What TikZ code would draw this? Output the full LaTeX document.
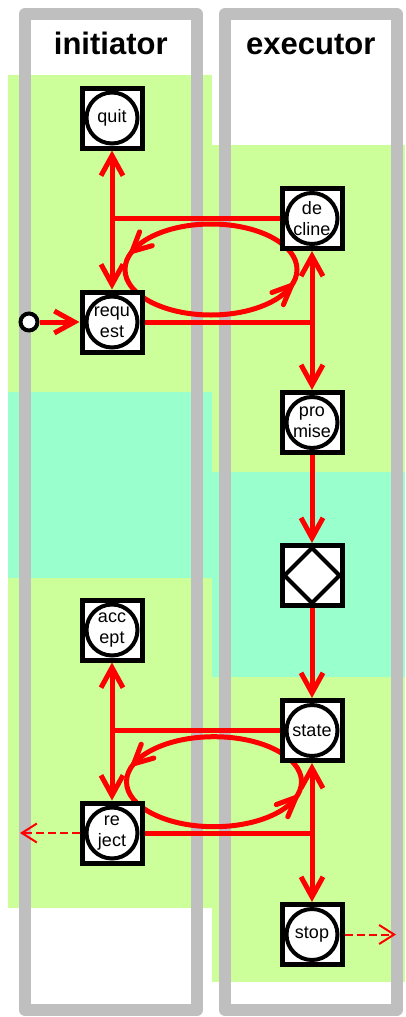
\documentclass[tikz,border=0pt]{standalone}
\usepackage{fontspec}
\setmainfont{Liberation Sans}
\usetikzlibrary{arrows.meta,calc}
\definecolor{lanegray}{RGB}{191,191,191}
\definecolor{lgreen}{RGB}{204,255,153}
\definecolor{lcyan}{RGB}{153,255,204}
\begin{document}
\begin{tikzpicture}[x=1pt,y=1pt,
  actbox/.style={rectangle, draw=black, line width=5pt, fill=white, minimum size=60pt, inner sep=0pt, align=center,
     font=\fontsize{18}{21}\selectfont,
     path picture={\draw[black, line width=4pt, fill=white] (path picture bounding box.center) circle[radius=25.5pt];}},
  factbox/.style={rectangle, draw=black, line width=5pt, fill=white, minimum size=60pt, inner sep=0pt,
     path picture={\draw[black, line width=4pt, fill=white] ($(path picture bounding box.center)+(0,27.5)$) -- ++(27.5,-27.5) -- ++(-27.5,-27.5) -- ++(-27.5,27.5) -- cycle;}},
  flow/.style={draw=red, line width=5pt, -{Straight Barb[length=20pt,width=22pt]}},
  loopline/.style={draw=red, line width=5pt},
  barb/.style={draw=red, line width=5pt, line cap=round},
  ext/.style={draw=red, line width=2pt, dash pattern=on 8pt off 4pt, -{Straight Barb[length=15pt,width=19pt]}},
  title/.style={font=\fontsize{31}{36}\selectfont\bfseries, anchor=base},
  lane/.style={draw=lanegray, line width=12pt, line join=round},
]
\useasboundingbox (0,0) rectangle (405,-1017);
\fill[white] (0,0) rectangle (405,-1017);
% coloured areas
\fill[lgreen] (8,-75) rectangle (212,-392);
\fill[lcyan] (8,-392) rectangle (212,-578);
\fill[lgreen] (8,-578) rectangle (212,-908);
\fill[lgreen] (212,-145) rectangle (405,-472);
\fill[lcyan] (212,-472) rectangle (405,-677);
\fill[lgreen] (212,-677) rectangle (405,-982);
% lanes
\draw[lane] (25,-14) rectangle (197,-1010);
\draw[lane] (225,-14) rectangle (396.5,-1010);
\node[title] (tinit) at (110.75,-54) {initiator};
\node[title] (texec) at (310.75,-54) {executor};
% cancel loops
\coordinate (c1) at (211,-269.5);
\draw[loopline] (c1) ellipse[x radius=86, y radius=45.5];
\coordinate (t1a) at ($(c1)+(156.6:86 and 45.5)$);
\coordinate (t1b) at ($(c1)+(-20.4:86 and 45.5)$);
\draw[barb] ($(t1a)+(16:21)$) -- (t1a) -- ($(t1a)+(69:21)$);
\draw[barb] ($(t1b)+(200:21)$) -- (t1b) -- ($(t1b)+(247:21)$);
\coordinate (c2) at (214,-781.7);
\draw[loopline] (c2) ellipse[x radius=87.5, y radius=45];
\coordinate (t2a) at ($(c2)+(156.6:87.5 and 45)$);
\coordinate (t2b) at ($(c2)+(-20.4:87.5 and 45)$);
\draw[barb] ($(t2a)+(16:21)$) -- (t2a) -- ($(t2a)+(69:21)$);
\draw[barb] ($(t2b)+(200:21)$) -- (t2b) -- ($(t2b)+(247:21)$);
% nodes
\node[circle, draw=black, line width=4pt, fill=white, minimum size=17pt, inner sep=0pt] (start) at (29,-322) {};
\node[actbox] (quit) at (112,-118) {quit};
\node[actbox] (decline) at (312,-218.5) {de\\cline};
\node[actbox] (request) at (112,-322) {requ\\est};
\node[actbox] (promise) at (312,-422.5) {pro\\mise};
\node[factbox] (exec) at (312,-575.5) {};
\node[actbox] (accept) at (112,-630) {acc\\ept};
\node[actbox] (state) at (312,-730.5) {state};
\node[actbox] (reject) at (112,-833) {re\\ject};
\node[actbox] (stop) at (312,-934.5) {stop};
\coordinate (rejout) at (20,-833);
\coordinate (stopout) at (396,-934.5);
% connectors
\draw[flow] (start) -- (request);
\draw[flow] (decline.west) -| (quit.south);
\draw[flow] (decline.west) -| (request.north);
\draw[flow] (request.east) -| (decline.south);
\draw[flow] (request.east) -| (promise.north);
\draw[flow] (promise) -- (exec);
\draw[flow] (exec) -- (state);
\draw[flow] (state.west) -| (accept.south);
\draw[flow] (state.west) -| (reject.north);
\draw[flow] (reject.east) -| (state.south);
\draw[flow] (reject.east) -| (stop.north);
\draw[ext] (reject.west) -- (rejout);
\draw[ext] (stop.east) -- (stopout);
\end{tikzpicture}
\end{document}
